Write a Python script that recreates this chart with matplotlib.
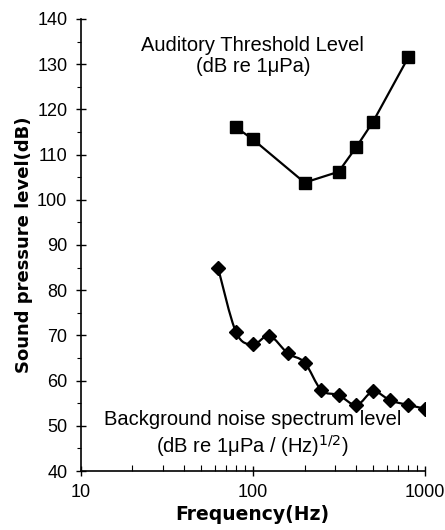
import matplotlib
matplotlib.use("Agg")
import matplotlib.pyplot as plt
import numpy as np
from matplotlib.path import Path
from matplotlib.patches import PathPatch
from matplotlib.ticker import NullFormatter, LogLocator

# Data
thr_freq = [80, 100, 200, 315, 400, 500, 800]
thr_level = [116.0, 113.4, 103.8, 106.2, 111.7, 117.3, 131.5]

noise_freq = [63, 80, 100, 125, 160, 200, 250, 315, 400, 500, 630, 800, 1000]
noise_level = [84.8, 70.7, 68.0, 69.9, 66.0, 64.0, 57.9, 56.8, 54.6, 57.6, 55.6, 54.6, 53.8]

x_ticks = [10, 100, 1000]
x_ticklabels = ["10", "100", "1000"]
y_ticks = [40, 50, 60, 70, 80, 90, 100, 110, 120, 130, 140]

fig = plt.figure(figsize=(4.45, 5.3), dpi=100)
ax = fig.add_axes([0.181, 0.1113, 0.774, 0.8529])
ax.set_xscale("log")
ax.set_xlim(10, 1000)
ax.set_ylim(40, 140)

for s in ["top", "right"]:
    ax.spines[s].set_visible(False)
for s in ["left", "bottom"]:
    ax.spines[s].set_linewidth(1.2)

# Threshold: straight lines with squares
ax.plot(thr_freq, thr_level, color="black", lw=1.6, marker="s", ms=8.4,
        markerfacecolor="black", markeredgecolor="black", zorder=3)

# Noise: smoothed curve (Catmull-Rom -> Bezier) with diamonds
fig.canvas.draw()
pts = ax.transData.transform(np.column_stack([noise_freq, noise_level]))
n = len(pts)
verts = [pts[0]]
codes = [Path.MOVETO]
for i in range(n - 1):
    p0 = pts[i - 1] if i > 0 else pts[i]
    p1 = pts[i]
    p2 = pts[i + 1]
    p3 = pts[i + 2] if i + 2 < n else pts[i + 1]
    c1 = p1 + (p2 - p0) / 6.0
    c2 = p2 - (p3 - p1) / 6.0
    verts += [c1, c2, p2]
    codes += [Path.CURVE4] * 3
verts = ax.transData.inverted().transform(np.array(verts))
patch = PathPatch(Path(verts, codes), facecolor="none", edgecolor="black", lw=1.6, zorder=3)
ax.add_patch(patch)
ax.plot(noise_freq, noise_level, linestyle="none", marker="D", ms=7.4,
        markerfacecolor="black", markeredgecolor="black", zorder=4)

# Ticks
ax.set_yticks(y_ticks)
ax.set_yticks(np.arange(45, 140, 10), minor=True)
ax.set_xticks(x_ticks)
ax.set_xticklabels(x_ticklabels)
ax.xaxis.set_minor_locator(LogLocator(base=10, subs=np.arange(2, 10)))
ax.xaxis.set_minor_formatter(NullFormatter())
ax.tick_params(axis="both", which="major", direction="inout", length=7, width=1.0,
               labelsize=13, pad=6)
ax.tick_params(axis="y", which="minor", direction="out", length=3, width=0.8)
ax.tick_params(axis="x", which="minor", direction="in", length=4, width=0.8)
for lab in ax.get_xticklabels() + ax.get_yticklabels():
    lab.set_fontfamily("Liberation Sans")

ax.set_xlabel("Frequency(Hz)", fontfamily="DejaVu Sans", fontweight="bold",
              fontsize=13.5, labelpad=3)
ax.set_ylabel("Sound pressure level(dB)", fontfamily="DejaVu Sans", fontweight="bold",
              fontsize=13, labelpad=3)

# Annotations
ax.text(0.5, 0.962, "Auditory Threshold Level\n(dB re 1\u03bcPa)", transform=ax.transAxes,
        ha="center", va="top", fontsize=14.5, fontfamily="Liberation Sans",
        linespacing=1.1)
ax.text(0.5, 0.081, "Background noise spectrum level\n(dB re 1\u03bcPa / (Hz)$^{1/2}$)",
        transform=ax.transAxes, ha="center", va="center", fontsize=14.5,
        fontfamily="Liberation Sans", linespacing=1.2)

fig.savefig("out.png", dpi=100)
